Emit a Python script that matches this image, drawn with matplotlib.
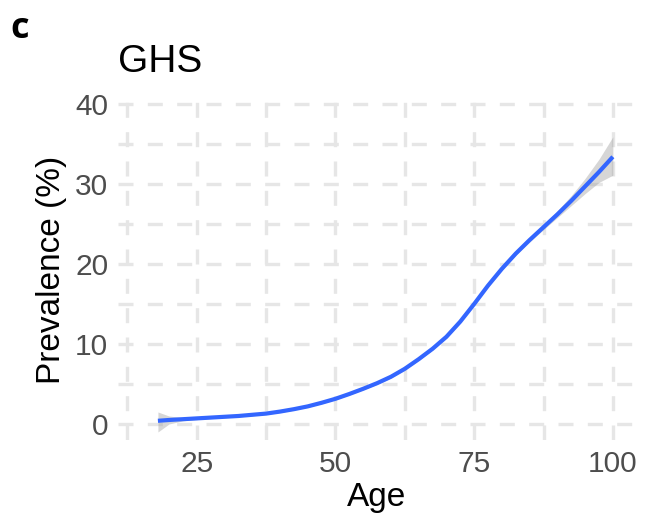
"""GHS prevalence by age: smoothed curve with confidence band."""

import matplotlib

matplotlib.use("Agg")
import matplotlib.pyplot as plt
from matplotlib.ticker import FixedLocator

plt.rcParams["font.family"] = ["Liberation Sans", "DejaVu Sans"]

# values
ages = [18, 20, 22.5, 25, 27.5, 30, 32.5, 35, 37.5, 40, 42.5, 45, 47.5, 50,
        52.5, 55, 57.5, 60, 62.5, 65, 67.5, 70, 72.5, 75, 77.5, 80, 82.5, 85,
        87.5, 90, 92.5, 95, 97.5, 100]
prevalence = [0.4, 0.5, 0.6, 0.7, 0.8, 0.9, 1.0, 1.15, 1.3, 1.55, 1.85, 2.2,
              2.65, 3.15, 3.75, 4.4, 5.1, 5.9, 6.9, 8.1, 9.4, 10.9, 12.8, 15.0,
              17.3, 19.4, 21.3, 23.0, 24.6, 26.2, 27.9, 29.7, 31.5, 33.4]
ci_upper = [1.5, 1.0, 0.8, 0.85, 0.92, 1.02, 1.12, 1.27, 1.42, 1.67, 1.97,
            2.32, 2.77, 3.27, 3.87, 4.52, 5.25, 6.05, 7.05, 8.25, 9.55, 11.05,
            12.95, 15.15, 17.45, 19.55, 21.5, 23.25, 24.9, 26.65, 28.55, 30.7,
            33.1, 35.9]
ci_lower = [-1.0, 0.0, 0.4, 0.55, 0.68, 0.78, 0.88, 1.03, 1.18, 1.43, 1.73,
            2.08, 2.53, 3.03, 3.63, 4.28, 4.95, 5.75, 6.75, 7.95, 9.25, 10.75,
            12.65, 14.85, 17.15, 19.25, 21.1, 22.75, 24.3, 25.8, 27.3, 28.8,
            30.2, 31.1]

x_major = [25, 50, 75, 100]
x_minor = [12.5, 37.5, 62.5, 87.5]
y_major = [0, 10, 20, 30, 40]
y_minor = [5, 15, 25, 35]

GRID = "#e6e6e6"
TICK_COLOR = "#4d4d4d"

fig = plt.figure(figsize=(6.5, 5.18), dpi=100)
ax = fig.add_axes([0.1815, 0.1506, 0.7955, 0.6564])

ax.fill_between(ages, ci_lower, ci_upper, color="#999999", alpha=0.4,
                linewidth=0, zorder=2)
ax.plot(ages, prevalence, color="#3366FF", linewidth=3.0, zorder=3,
        solid_capstyle="butt", solid_joinstyle="round")

ax.set_xlim(10.8, 104.0)
ax.set_ylim(-2.0, 40.5)

ax.xaxis.set_major_locator(FixedLocator(x_major))
ax.xaxis.set_minor_locator(FixedLocator(x_minor))
ax.yaxis.set_major_locator(FixedLocator(y_major))
ax.yaxis.set_minor_locator(FixedLocator(y_minor))

dash = (0, (4.5, 4.3))
for which in ("major", "minor"):
    ax.grid(True, which=which, color=GRID, linewidth=2.4, linestyle=dash)
ax.set_axisbelow(True)

for spine in ax.spines.values():
    spine.set_visible(False)

ax.tick_params(which="both", length=0)
ax.tick_params(axis="y", labelsize=21.5, labelcolor=TICK_COLOR, pad=7)
ax.tick_params(axis="x", labelsize=21.5, labelcolor=TICK_COLOR, pad=7)

ax.set_xlabel("Age", fontsize=24, labelpad=3)
ax.set_ylabel("Prevalence (%)", fontsize=24, labelpad=6)
ax.set_title("GHS", fontsize=28, loc="left", pad=20)

fig.text(10 / 650, 1 - 38 / 518, "c", fontsize=26, fontweight="bold",
         family=["Open Sans", "DejaVu Sans"], va="baseline", ha="left")

fig.savefig("out.png", dpi=100)
plt.close(fig)
